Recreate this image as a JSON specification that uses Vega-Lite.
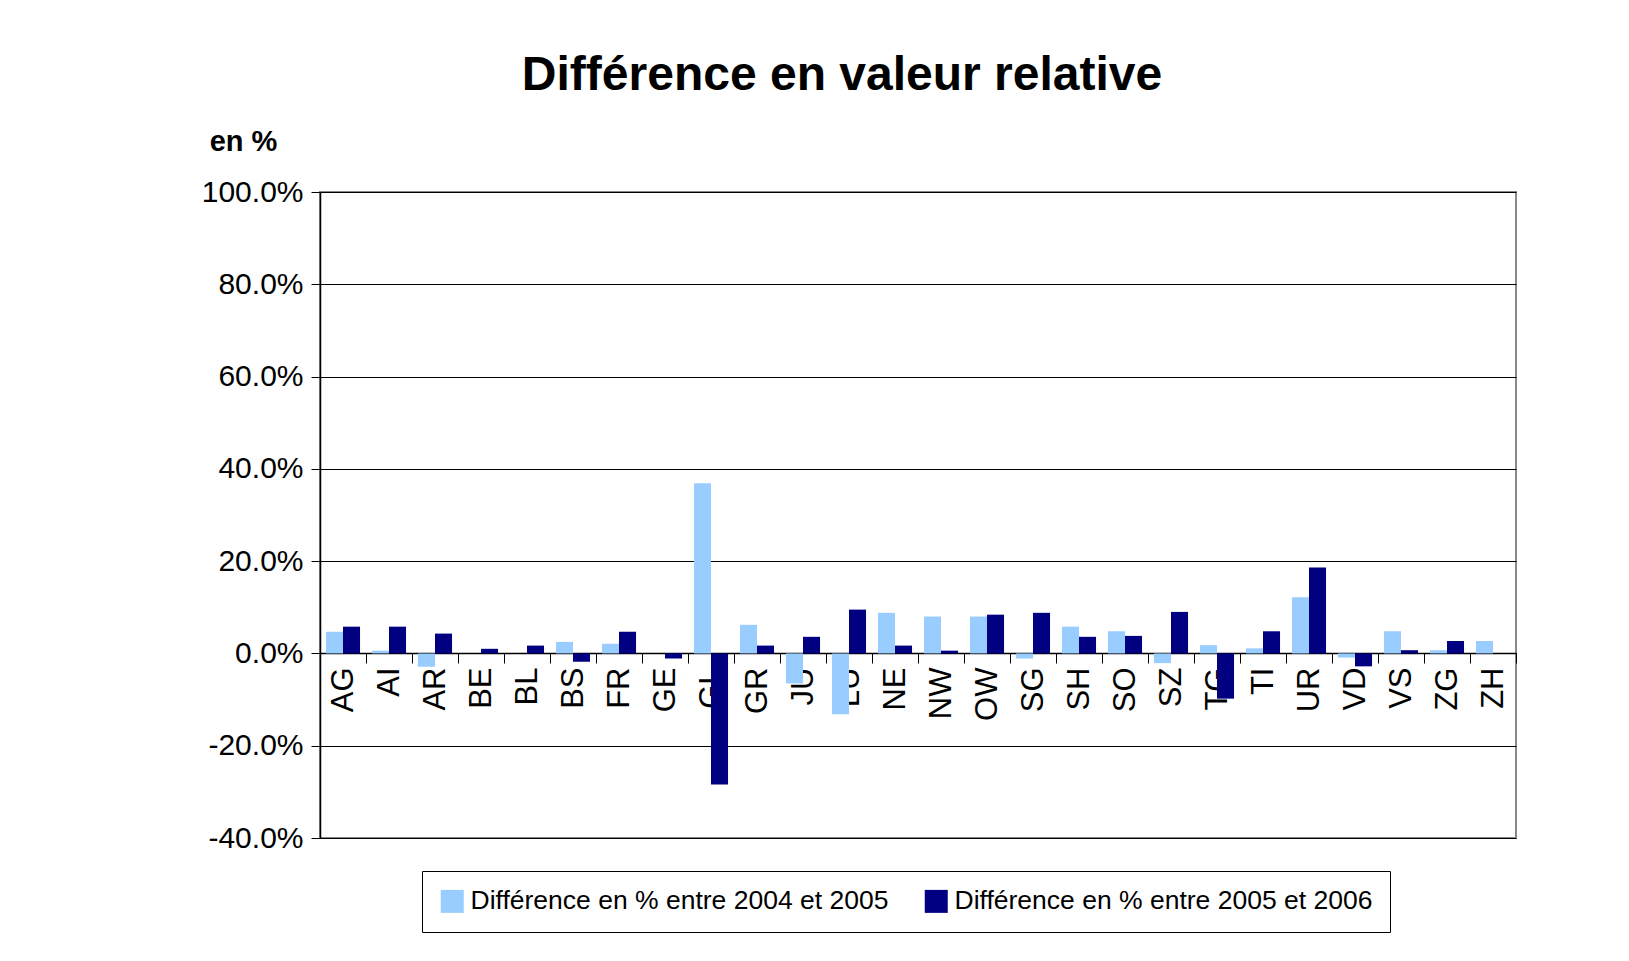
{
  "$schema": "https://vega.github.io/schema/vega-lite/v6.json",
  "width": 1196,
  "height": 646,
  "autosize": {"type": "none"},
  "padding": {"left": 320, "top": 192, "right": 113, "bottom": 123},
  "background": "white",
  "title": {
    "text": "Différence en valeur relative",
    "font": "Liberation Sans",
    "fontSize": 48,
    "fontWeight": "bold",
    "color": "#000000",
    "anchor": "middle",
    "dx": -76,
    "offset": 27
  },
  "data": {
    "values": [
      {"canton": "AG", "serie": "Différence en % entre 2004 et 2005", "value": 0.047},
      {"canton": "AG", "serie": "Différence en % entre 2005 et 2006", "value": 0.058},
      {"canton": "AI", "serie": "Différence en % entre 2004 et 2005", "value": 0.006},
      {"canton": "AI", "serie": "Différence en % entre 2005 et 2006", "value": 0.058},
      {"canton": "AR", "serie": "Différence en % entre 2004 et 2005", "value": -0.029},
      {"canton": "AR", "serie": "Différence en % entre 2005 et 2006", "value": 0.043},
      {"canton": "BE", "serie": "Différence en % entre 2004 et 2005", "value": 0.0},
      {"canton": "BE", "serie": "Différence en % entre 2005 et 2006", "value": 0.010},
      {"canton": "BL", "serie": "Différence en % entre 2004 et 2005", "value": 0.0},
      {"canton": "BL", "serie": "Différence en % entre 2005 et 2006", "value": 0.017},
      {"canton": "BS", "serie": "Différence en % entre 2004 et 2005", "value": 0.025},
      {"canton": "BS", "serie": "Différence en % entre 2005 et 2006", "value": -0.018},
      {"canton": "FR", "serie": "Différence en % entre 2004 et 2005", "value": 0.021},
      {"canton": "FR", "serie": "Différence en % entre 2005 et 2006", "value": 0.047},
      {"canton": "GE", "serie": "Différence en % entre 2004 et 2005", "value": 0.0},
      {"canton": "GE", "serie": "Différence en % entre 2005 et 2006", "value": -0.011},
      {"canton": "GL", "serie": "Différence en % entre 2004 et 2005", "value": 0.369},
      {"canton": "GL", "serie": "Différence en % entre 2005 et 2006", "value": -0.284},
      {"canton": "GR", "serie": "Différence en % entre 2004 et 2005", "value": 0.062},
      {"canton": "GR", "serie": "Différence en % entre 2005 et 2006", "value": 0.017},
      {"canton": "JU", "serie": "Différence en % entre 2004 et 2005", "value": -0.065},
      {"canton": "JU", "serie": "Différence en % entre 2005 et 2006", "value": 0.036},
      {"canton": "LU", "serie": "Différence en % entre 2004 et 2005", "value": -0.132},
      {"canton": "LU", "serie": "Différence en % entre 2005 et 2006", "value": 0.095},
      {"canton": "NE", "serie": "Différence en % entre 2004 et 2005", "value": 0.088},
      {"canton": "NE", "serie": "Différence en % entre 2005 et 2006", "value": 0.017},
      {"canton": "NW", "serie": "Différence en % entre 2004 et 2005", "value": 0.080},
      {"canton": "NW", "serie": "Différence en % entre 2005 et 2006", "value": 0.006},
      {"canton": "OW", "serie": "Différence en % entre 2004 et 2005", "value": 0.080},
      {"canton": "OW", "serie": "Différence en % entre 2005 et 2006", "value": 0.084},
      {"canton": "SG", "serie": "Différence en % entre 2004 et 2005", "value": -0.011},
      {"canton": "SG", "serie": "Différence en % entre 2005 et 2006", "value": 0.088},
      {"canton": "SH", "serie": "Différence en % entre 2004 et 2005", "value": 0.058},
      {"canton": "SH", "serie": "Différence en % entre 2005 et 2006", "value": 0.036},
      {"canton": "SO", "serie": "Différence en % entre 2004 et 2005", "value": 0.048},
      {"canton": "SO", "serie": "Différence en % entre 2005 et 2006", "value": 0.038},
      {"canton": "SZ", "serie": "Différence en % entre 2004 et 2005", "value": -0.021},
      {"canton": "SZ", "serie": "Différence en % entre 2005 et 2006", "value": 0.090},
      {"canton": "TG", "serie": "Différence en % entre 2004 et 2005", "value": 0.018},
      {"canton": "TG", "serie": "Différence en % entre 2005 et 2006", "value": -0.098},
      {"canton": "TI", "serie": "Différence en % entre 2004 et 2005", "value": 0.011},
      {"canton": "TI", "serie": "Différence en % entre 2005 et 2006", "value": 0.048},
      {"canton": "UR", "serie": "Différence en % entre 2004 et 2005", "value": 0.122},
      {"canton": "UR", "serie": "Différence en % entre 2005 et 2006", "value": 0.186},
      {"canton": "VD", "serie": "Différence en % entre 2004 et 2005", "value": -0.009},
      {"canton": "VD", "serie": "Différence en % entre 2005 et 2006", "value": -0.028},
      {"canton": "VS", "serie": "Différence en % entre 2004 et 2005", "value": 0.048},
      {"canton": "VS", "serie": "Différence en % entre 2005 et 2006", "value": 0.007},
      {"canton": "ZG", "serie": "Différence en % entre 2004 et 2005", "value": 0.007},
      {"canton": "ZG", "serie": "Différence en % entre 2005 et 2006", "value": 0.027},
      {"canton": "ZH", "serie": "Différence en % entre 2004 et 2005", "value": 0.027},
      {"canton": "ZH", "serie": "Différence en % entre 2005 et 2006", "value": 0.0}
    ]
  },
  "mark": {"type": "bar"},
  "encoding": {
    "x": {
      "field": "canton",
      "type": "nominal",
      "sort": null,
      "scale": {"paddingInner": 0, "paddingOuter": 0},
      "axis": {
        "title": null,
        "offset": -185,
        "labelAngle": -90,
        "labelAlign": "right",
        "labelBaseline": "middle",
        "labelFontSize": 31,
        "labelFont": "Liberation Sans",
        "labelColor": "#000000",
        "labelPadding": 4,
        "tickBand": "extent",
        "tickSize": 10,
        "tickColor": "#000000",
        "domainColor": "#000000",
        "domainWidth": 1.5,
        "grid": false
      }
    },
    "xOffset": {
      "field": "serie",
      "type": "nominal",
      "scale": {"paddingInner": 0, "paddingOuter": 0.35}
    },
    "y": {
      "field": "value",
      "type": "quantitative",
      "scale": {"domain": [-0.4, 1.0], "nice": false, "zero": false},
      "axis": {
        "title": "en %",
        "titleAngle": 0,
        "titleX": -77,
        "titleY": -42,
        "titleAlign": "center",
        "titleBaseline": "alphabetic",
        "titleFont": "Liberation Sans",
        "titleFontSize": 29,
        "titleFontWeight": "bold",
        "titleColor": "#000000",
        "values": [-0.4, -0.2, 0, 0.2, 0.4, 0.6, 0.8, 1.0],
        "format": ".1%",
        "labelExpr": "replace(datum.label, '−', '-')",
        "labelFontSize": 30,
        "labelFont": "Liberation Sans",
        "labelColor": "#000000",
        "labelPadding": 8,
        "tickSize": 9,
        "tickColor": "#000000",
        "domainColor": "#000000",
        "domainWidth": 1.5,
        "grid": true,
        "gridColor": "#000000",
        "gridWidth": 1
      }
    },
    "color": {
      "field": "serie",
      "type": "nominal",
      "scale": {"range": ["#99CCFF", "#000080"]},
      "legend": {
        "title": null,
        "orient": "none",
        "legendX": 102,
        "legendY": 679,
        "direction": "horizontal",
        "symbolType": "square",
        "symbolSize": 529,
        "symbolStrokeWidth": 0,
        "symbolOpacity": 1,
        "labelFontSize": 26.5,
        "labelFont": "Liberation Sans",
        "labelColor": "#000000",
        "labelLimit": 0,
        "labelOffset": 5,
        "columnPadding": 34,
        "padding": 17,
        "strokeColor": "#000000",
        "fillColor": "#FFFFFF"
      }
    }
  },
  "config": {
    "view": {"stroke": "#888888", "strokeWidth": 2},
    "font": "Liberation Sans"
  }
}
